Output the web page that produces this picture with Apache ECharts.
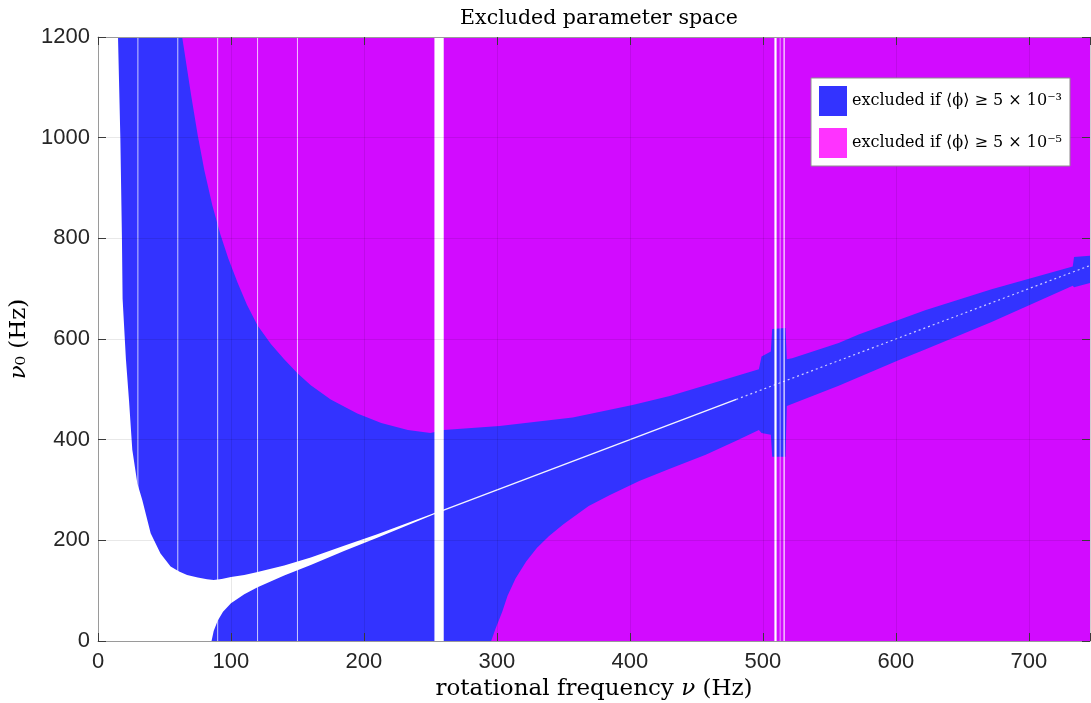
<!DOCTYPE html>
<html>
<head>
<meta charset="utf-8">
<script src="https://cdn.jsdelivr.net/npm/echarts@6/dist/echarts.min.js"></script>
<style>html,body{margin:0;padding:0;background:#fff}#c{width:1091px;height:703px}</style>
</head>
<body>
<div id="c"></div>
<script>
// ---- data ----
const xRange = [0, 746];
const yRange = [0, 1200];
const xTicks = [0, 100, 200, 300, 400, 500, 600, 700];
const yTicks = [0, 200, 400, 600, 800, 1000, 1200];
const seriesNames = ['excluded if ⟨ϕ⟩ ≥ 5 × 10⁻³', 'excluded if ⟨ϕ⟩ ≥ 5 × 10⁻⁵'];

// region excluded at 5e-5 (covers the whole frequency range)
const magentaRegion = [[-5, -5], [750, -5], [750, 1205], [-5, 1205]];

// region excluded at 5e-3: upper edge (left to right) then lower edge (right to left)
const blueUpperEdge = [[-5, 1205], [63, 1205], [70, 1085], [75, 1005], [80, 935], [86, 865], [92, 808],
  [98, 760], [105, 712], [112, 668], [120, 627], [130, 590], [140, 560], [150, 532], [160, 508],
  [175, 480], [195, 452], [213, 433], [233, 419], [250, 413], [260, 419], [302, 427], [357, 444],
  [402, 469], [430, 487], [457, 508], [497, 540], [499, 565], [506, 575], [507, 620], [517, 622],
  [518, 560], [522, 562], [557, 592], [572, 609], [622, 657], [672, 699], [733, 744], [734, 763],
  [750, 766]];
const blueLowerEdge = [[750, 714], [734, 703], [733, 706], [672, 634], [622, 579], [602, 558],
  [557, 507], [518, 467], [517, 366], [507, 366], [506, 410], [499, 413], [497, 419], [480, 398],
  [457, 370], [430, 342], [407, 318], [385, 290], [369, 268], [350, 232], [339, 208], [330, 185],
  [322, 158], [314, 124], [308, 90], [304, 58], [299, 25], [295, -5], [-5, -5]];

// allowed (white) region: left boundary, lower-left wedge converging on nu0 = nu
const whiteLeftEdge = [[-5, -5], [-5, 1205], [15, 1205], [16.8, 1000], [18, 800], [18.5, 680], [21, 560],
  [23.3, 479], [25.8, 380], [29.6, 313], [33.3, 280], [39.6, 214], [47, 174], [54.6, 148], [61, 138],
  [67, 131], [75, 126], [82, 122.5], [87, 121]];
const wedgeUpperEdge = [[93, 123], [100, 127], [110, 131], [120, 137], [140, 150], [160, 166],
  [185, 189], [210, 212], [252, 253.5]];
const wedgeLowerEdge = [[252, 251], [210, 205], [185, 179], [160, 151], [140, 130], [120, 107],
  [110, 93], [100, 75], [94, 58], [90, 40], [87, 20], [85, -5]];

// nu0 = nu line
const resonanceSolid = [[252, 252], [480, 480]];
const resonanceDotted = [[480, 480], [746, 746]];

// vetoed frequency bands (vertical gaps)
const thinGaps = [30, 60, 90, 120, 150];
const wideGap = [253, 260];
const gaps500 = [509.5, 513, 516];

// ---- chart ----
const chart = echarts.init(document.getElementById('c'), null, {renderer: 'canvas'});

function polygonSeries(name, pts, fill, legendColor, z) {
  return {
    type: 'custom', name: name, z: z, silent: true, clip: true,
    coordinateSystem: 'cartesian2d', xAxisIndex: 0, yAxisIndex: 0,
    data: pts, encode: {x: 0, y: 1},
    itemStyle: {color: legendColor},
    renderItem: function (params, api) {
      if (params.dataIndex !== 0) return null;
      return {type: 'polygon', shape: {points: pts.map(p => api.coord(p))}, style: {fill: fill}};
    }
  };
}

function vlineSeries(xs, width, color, z) {
  return {
    type: 'custom', z: z, silent: true, clip: true,
    coordinateSystem: 'cartesian2d', xAxisIndex: 0, yAxisIndex: 0,
    data: xs.map(v => [v, yRange[0]]), encode: {x: 0, y: 1},
    renderItem: function (params, api) {
      const v = api.value(0);
      const a = api.coord([v, yRange[0]]);
      const b = api.coord([v, yRange[1]]);
      return {type: 'line', shape: {x1: a[0], y1: a[1], x2: b[0], y2: b[1]},
        style: {stroke: color, lineWidth: width}};
    }
  };
}

const blueRegion = blueUpperEdge.concat(blueLowerEdge);
const whiteRegion = whiteLeftEdge.concat(wedgeUpperEdge, wedgeLowerEdge);

const axisCommon = {
  type: 'value',
  axisLine: {show: true, onZero: false, lineStyle: {color: '#9a9a9a', width: 1}},
  axisTick: {show: true, inside: true, length: 8, lineStyle: {color: '#3a3a3a', width: 1}},
  z: 10
};

const option = {
  animation: false,
  backgroundColor: '#ffffff',
  title: {
    text: 'Excluded parameter space',
    left: 594, top: 3, textAlign: 'center',
    textStyle: {fontFamily: 'DejaVu Serif', fontWeight: 'normal', fontSize: 20.5, color: '#000'}
  },
  grid: {left: 98, right: 1, top: 37, bottom: 62, containLabel: false, outerBoundsMode: 'none'},
  legend: {
    data: [
      {name: seriesNames[0], icon: 'rect', itemStyle: {color: '#3333ff'}},
      {name: seriesNames[1], icon: 'rect', itemStyle: {color: '#ff33ff'}}
    ],
    orient: 'vertical', left: 811, top: 78,
    itemWidth: 28, itemHeight: 30, itemGap: 12,
    padding: [8, 8, 8, 8],
    backgroundColor: '#ffffff', borderColor: '#8f8f8f', borderWidth: 1,
    textStyle: {fontFamily: 'DejaVu Serif', fontSize: 16, color: '#000'},
    selectedMode: false, z: 20
  },
  xAxis: [
    Object.assign({}, axisCommon, {
      position: 'bottom', min: xRange[0], max: xRange[1], interval: 100,
      axisLabel: {fontFamily: 'Liberation Sans', fontSize: 22, color: '#262626', margin: 10,
        formatter: v => (xTicks.indexOf(v) >= 0 ? String(v) : '')},
      splitLine: {show: true, lineStyle: {color: 'rgba(0,0,0,0.09)', width: 1}},
      name: 'rotational frequency {i|ν} (Hz)', nameLocation: 'middle', nameGap: 35,
      nameTextStyle: {fontFamily: 'DejaVu Serif', fontSize: 23, color: '#000',
        rich: {i: {fontFamily: 'DejaVu Serif', fontStyle: 'italic', fontSize: 23, color: '#000'}}}
    }),
    Object.assign({}, axisCommon, {
      position: 'top', min: xRange[0], max: xRange[1], interval: 100,
      axisLabel: {show: false}, splitLine: {show: false}
    })
  ],
  yAxis: [
    Object.assign({}, axisCommon, {
      position: 'left', min: yRange[0], max: yRange[1], interval: 200,
      axisLabel: {fontFamily: 'Liberation Sans', fontSize: 22, color: '#262626', margin: 8,
        formatter: v => (yTicks.indexOf(v) >= 0 ? String(v) : '')},
      splitLine: {show: true, lineStyle: {color: 'rgba(0,0,0,0.09)', width: 1}},
      name: '{i|ν}₀ (Hz)', nameLocation: 'middle', nameGap: 65, nameRotate: 90,
      nameTextStyle: {fontFamily: 'DejaVu Serif', fontSize: 23, color: '#000',
        rich: {i: {fontFamily: 'DejaVu Serif', fontStyle: 'italic', fontSize: 23, color: '#000'}}}
    }),
    Object.assign({}, axisCommon, {
      position: 'right', min: yRange[0], max: yRange[1], interval: 200,
      axisLine: {show: true, onZero: false, lineStyle: {color: 'rgba(150,150,150,0.3)', width: 1}},
      axisLabel: {show: false}, splitLine: {show: false}
    })
  ],
  series: [
    polygonSeries(seriesNames[1], magentaRegion, '#d20bff', '#ff33ff', 1),
    polygonSeries(seriesNames[0], blueRegion, '#3333ff', '#3333ff', 2),
    polygonSeries('allowed', whiteRegion, '#ffffff', '#ffffff', 3),
    {
      type: 'line', z: 4, silent: true, data: resonanceSolid, showSymbol: false, symbol: 'none',
      lineStyle: {color: 'rgba(255,255,255,0.95)', width: 1.4}, xAxisIndex: 0, yAxisIndex: 0
    },
    {
      type: 'line', z: 4, silent: true, data: resonanceDotted, showSymbol: false, symbol: 'none',
      lineStyle: {color: 'rgba(255,255,255,0.75)', width: 1.2, type: [2, 3]}, xAxisIndex: 0, yAxisIndex: 0
    },
    vlineSeries(thinGaps, 1, 'rgba(255,255,255,0.75)', 5),
    {
      type: 'custom', z: 5, silent: true, clip: true,
      coordinateSystem: 'cartesian2d', xAxisIndex: 0, yAxisIndex: 0,
      data: [[wideGap[0], wideGap[1]]], encode: {x: [0, 1]},
      renderItem: function (params, api) {
        const a = api.coord([api.value(0), yRange[1]]);
        const b = api.coord([api.value(1), yRange[0]]);
        return {type: 'rect', shape: {x: a[0], y: a[1], width: b[0] - a[0], height: b[1] - a[1]},
          style: {fill: '#ffffff'}};
      }
    },
    vlineSeries([gaps500[0]], 2.2, '#ffffff', 5),
    vlineSeries([gaps500[1]], 1, 'rgba(255,255,255,0.6)', 5),
    vlineSeries([gaps500[2]], 1.5, 'rgba(255,255,255,0.75)', 5)
  ]
};
chart.setOption(option);
</script>
</body>
</html>
